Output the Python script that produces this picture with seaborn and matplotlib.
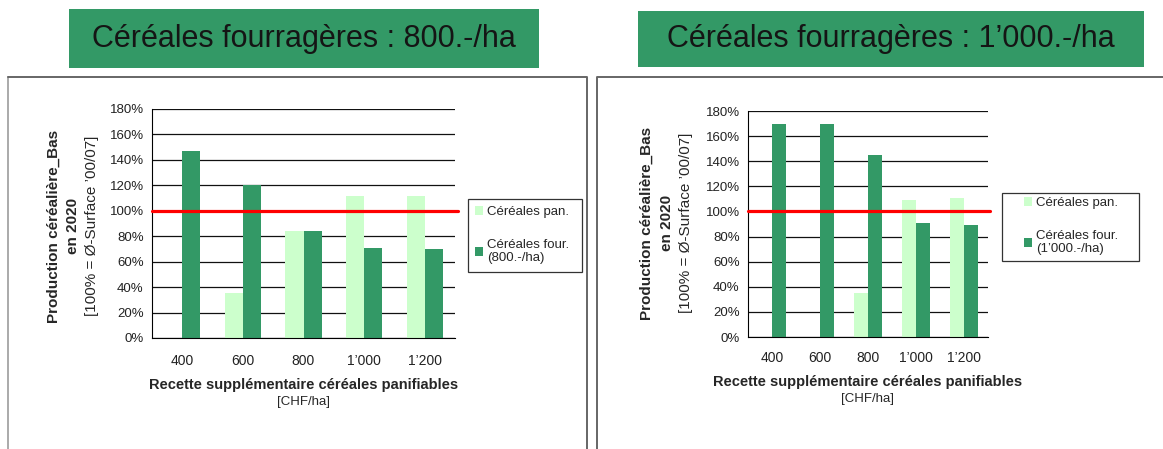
import numpy as np
import pandas as pd
import matplotlib
matplotlib.use("Agg")
import matplotlib.pyplot as plt
import seaborn as sns
from matplotlib.patches import Rectangle
from matplotlib.lines import Line2D

# Données (en % de la surface moyenne '00/07)
categories = ["400", "600", "800", "1’000", "1’200"]
pan_800 = [0, 35, 84, 112, 112]
four_800 = [147, 120, 84, 71, 70]
pan_1000 = [0, 0, 35, 109, 111]
four_1000 = [170, 170, 145, 91, 89]
seuil = 100
yticks = [0, 20, 40, 60, 80, 100, 120, 140, 160, 180]

titres = ["Céréales fourragères : 800.-/ha", "Céréales fourragères : 1’000.-/ha"]
label_pan = "Céréales pan."
labels_four = ["Céréales four.\n(800.-/ha)", "Céréales four.\n(1’000.-/ha)"]

sns.set_style("white")
plt.rcParams["font.family"] = ["Liberation Sans", "DejaVu Sans"]

LIGHT = "#ccffcc"
DARK = "#339966"
W, H = 1163, 449

fig = plt.figure(figsize=(W / 100, H / 100), dpi=100)


def px_rect(x0, y0, x1, y1):
    """pixel box (top-left origin) -> figure fraction [left, bottom, w, h]"""
    return [x0 / W, 1 - y1 / H, (x1 - x0) / W, (y1 - y0) / H]


def fig_line(xs, ys, color, lw):
    fig.add_artist(Line2D([x / W for x in xs], [1 - y / H for y in ys],
                          color=color, lw=lw, transform=fig.transFigure))


def draw_panel(box, pan, four, label_four, xpad, leg_frame, leg_anchor,
               ylab_x, ylab_y, xlab_y):
    ax = fig.add_axes(px_rect(*box))
    df = pd.DataFrame({
        "recette": categories * 2,
        "valeur": pan + four,
        "type": [label_pan] * len(categories) + [label_four] * len(categories),
    })
    ax.set_axisbelow(True)
    ax.grid(axis="y", color="#111111", lw=0.9)
    sns.barplot(data=df, x="recette", y="valeur", hue="type", order=categories,
                palette=[LIGHT, DARK], width=0.6, gap=0, linewidth=0,
                saturation=1, ax=ax)
    ax.axhline(seuil, color="#ff0000", lw=2.3, xmax=1.01, clip_on=False, zorder=4)

    ax.set_xlim(-0.5, len(categories) - 0.5)
    ax.set_ylim(0, 180)
    ax.set_yticks(yticks)
    ax.set_yticklabels([f"{v}%" for v in yticks], fontsize=9.5, color="#222222")
    ax.set_xticks(np.arange(-0.5, len(categories), 1), minor=True)
    ax.tick_params(axis="x", which="major", length=0, pad=xpad, labelsize=10,
                   labelcolor="#222222")
    ax.tick_params(axis="x", which="minor", length=4, width=0.8, color="black",
                   direction="out")
    ax.tick_params(axis="y", length=6, width=0.8, color="black", direction="inout", pad=3)
    ax.set_xlabel("")
    ax.set_ylabel("")
    for s in ["top", "right"]:
        ax.spines[s].set_visible(False)
    for s in ["left", "bottom"]:
        ax.spines[s].set_color("black")
        ax.spines[s].set_linewidth(0.8)

    # légende : cadre dessiné à part, contenu placé dedans
    handles, labels = ax.get_legend_handles_labels()
    ax.get_legend().remove()
    x0, y0, x1, y1 = leg_frame
    fig.add_artist(Rectangle((x0 / W, 1 - y1 / H), (x1 - x0) / W, (y1 - y0) / H,
                             transform=fig.transFigure, facecolor="white",
                             edgecolor="#333333", lw=0.9))
    leg = fig.legend(handles, labels, loc="upper left",
                     bbox_to_anchor=(leg_anchor[0] / W, 1 - leg_anchor[1] / H),
                     frameon=False, fontsize=9.5, handlelength=0.6,
                     handleheight=0.6, handletextpad=0.3, labelspacing=1.6,
                     borderpad=0, borderaxespad=0)
    for t in leg.get_texts():
        t.set_linespacing(1.1)

    # titres d'axes
    xc = (box[0] + box[2]) / 2
    fig.text(xc / W, 1 - xlab_y / H, "Recette supplémentaire céréales panifiables",
             ha="center", va="center", fontsize=10.5, fontweight="bold")
    fig.text(xc / W, 1 - (xlab_y + 17) / H, "[CHF/ha]", ha="center", va="center",
             fontsize=9.5)
    ylines = [("Production céréalière_Bas", "bold"), ("en 2020", "bold"),
              ("[100% = Ø-Surface ’00/07]", "normal")]
    for x, (txt, wgt) in zip(ylab_x, ylines):
        fig.text(x / W, 1 - ylab_y / H, txt, rotation=90, ha="center", va="center",
                 fontsize=11, fontweight=wgt)
    return ax


# cadres des diapositives
fig_line([8, 8], [449, 77], "#aaaaaa", 1.4)
fig_line([8, 587, 587], [77, 77, 449], "#666666", 1.4)
fig_line([597, 597, 1163], [449, 77, 77], "#666666", 1.4)

# bandeaux de titre
for (x0, y0, x1, y1), titre in zip([(69, 9, 539, 68), (638, 11, 1144, 67)], titres):
    fig.add_artist(Rectangle((x0 / W, 1 - y1 / H), (x1 - x0) / W, (y1 - y0) / H,
                             transform=fig.transFigure, facecolor=DARK,
                             edgecolor="none"))
    fig.text((x0 + x1) / 2 / W, 1 - (y0 + y1) / 2 / H, titre, ha="center",
             va="center", fontsize=22, color="#151515")

draw_panel((152, 109, 455, 338), pan_800, four_800, labels_four[0], 11.5,
           (468, 199, 582, 272), (475, 206), (54, 73, 92), 226, 385)
draw_panel((748, 111, 988, 337), pan_1000, four_1000, labels_four[1], 10,
           (1002, 193, 1139, 261), (1024, 197), (647, 667, 686), 223, 382)

fig.savefig("out.png", dpi=100)
